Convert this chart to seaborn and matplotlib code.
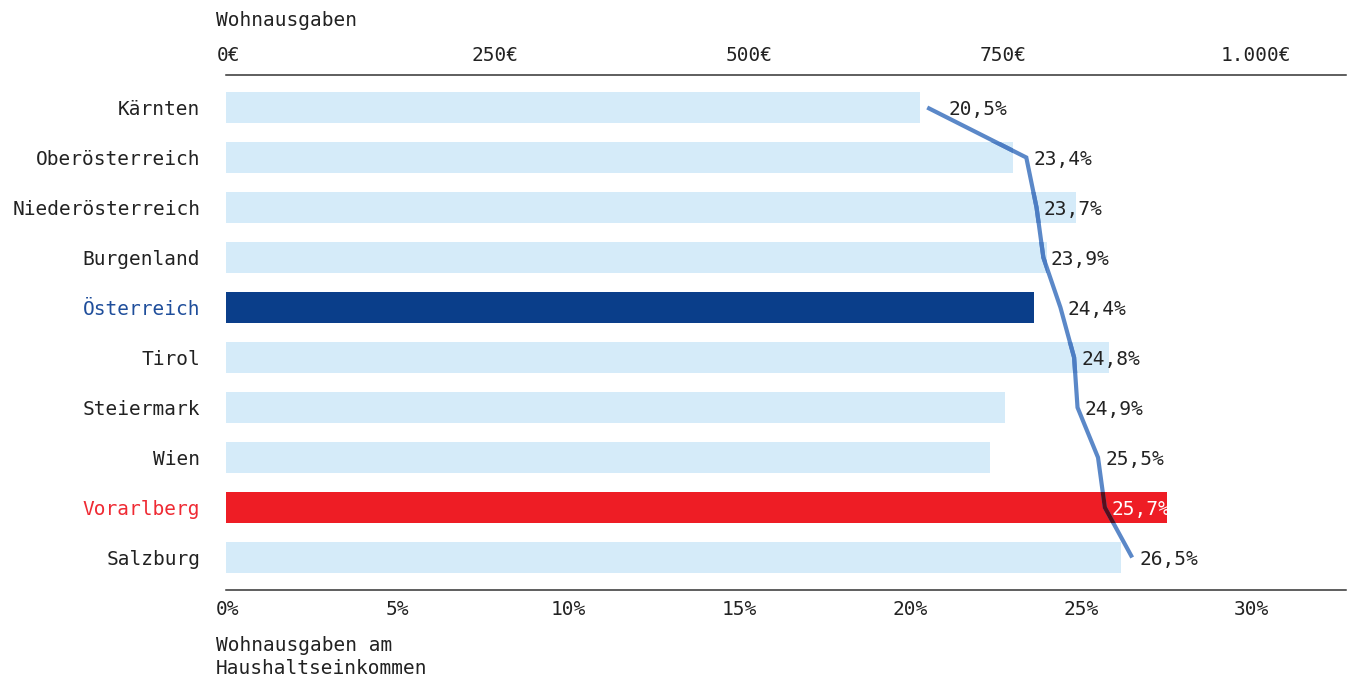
import numpy as np
import pandas as pd
import matplotlib
matplotlib.use("Agg")
import matplotlib.pyplot as plt
import matplotlib.transforms as mtransforms
from matplotlib.colors import to_rgb
import seaborn as sns

# --- data -------------------------------------------------------------
regions = ["Kärnten", "Oberösterreich", "Niederösterreich", "Burgenland",
           "Österreich", "Tirol", "Steiermark", "Wien", "Vorarlberg", "Salzburg"]
spend_eur = [683, 774, 836, 808, 795, 869, 766, 752, 926, 881]
share_pct = [20.5, 23.4, 23.7, 23.9, 24.4, 24.8, 24.9, 25.5, 25.7, 26.5]

eur_ticks = [0, 250, 500, 750, 1000]
eur_tick_labels = ["0€", "250€", "500€", "750€", "1.000€"]
pct_ticks = [0, 5, 10, 15, 20, 25, 30]
pct_tick_labels = ["0%", "5%", "10%", "15%", "20%", "25%", "30%"]

top_title = "Wohnausgaben"
bottom_title = "Wohnausgaben am\nHaushaltseinkommen"

# --- styling ----------------------------------------------------------
LIGHT = "#d5ebf9"
NAVY = "#0a3e8a"
RED = "#ee1d25"
LINE = "#5b88c8"
TEXT = "#222222"
bar_colors = {r: LIGHT for r in regions}
bar_colors["Österreich"] = NAVY
bar_colors["Vorarlberg"] = RED
label_colors = {"Österreich": "#1f4e9b", "Vorarlberg": "#ef2a33"}

sns.set_theme(style="white")
plt.rcParams["font.family"] = ["DejaVu Sans Mono"]
plt.rcParams["text.color"] = TEXT
FS = 14

df = pd.DataFrame({"region": regions, "eur": spend_eur, "pct": share_pct})

W, H = 1352, 679
fig = plt.figure(figsize=(W / 100, H / 100), dpi=100)
ax = fig.add_axes([226 / W, 1 - 590 / H, 1120 / W, 515 / H])
ax2 = ax.twiny()

# bars: monthly housing spend (top axis)
sns.barplot(data=df, x="eur", y="region", hue="region", palette=bar_colors,
            legend=False, width=0.62, saturation=1, linewidth=0, ax=ax)
ax.set_xlim(0, 1102)
ax.set_ylim(9.65, -0.65)
ax.set_xlabel("")
ax.set_ylabel("")

# line: share of household income (bottom axis)
ys = np.arange(len(regions))
line_kw = dict(lw=3.0, solid_joinstyle="miter", solid_capstyle="butt")
sns.lineplot(x=df["pct"], y=ys, sort=False, orient="y", color=LINE,
             ax=ax2, **line_kw)
# darken the line where it crosses a bar (multiply look)
base = np.array(to_rgb(LINE))
for patch in ax.patches:
    fc = np.array(patch.get_facecolor()[:3])
    seg, = ax2.plot(df["pct"], ys, color=tuple(base * fc), **line_kw)
    seg.set_clip_path(patch)
ax2.set_xlim(-0.03, 32.76)
ax2.set_ylim(9.65, -0.65)
ax2.set_xlabel("")
ax2.set_ylabel("")

# percentage labels next to the line
for i, (r, p) in enumerate(zip(regions, share_pct)):
    dx = 21 if i == 0 else 7
    ax2.annotate(f"{p:.1f}".replace(".", ",") + "%", xy=(p, i),
                 xytext=(dx, 0), textcoords="offset pixels",
                 ha="left", va="center_baseline", fontsize=FS,
                 color="white" if r == "Vorarlberg" else TEXT)

# axes layout
ax.xaxis.set_ticks_position("top")
ax.xaxis.set_label_position("top")
ax2.xaxis.set_ticks_position("bottom")
ax2.xaxis.set_label_position("bottom")

for s in ["left", "right", "bottom"]:
    ax.spines[s].set_visible(False)
for s in ["left", "right", "top"]:
    ax2.spines[s].set_visible(False)
ax.spines["top"].set_color("#333333")
ax.spines["top"].set_linewidth(1.1)
ax2.spines["bottom"].set_color("#333333")
ax2.spines["bottom"].set_linewidth(1.1)

ax.set_xticks(eur_ticks)
ax.set_xticklabels(eur_tick_labels)
ax2.set_xticks(pct_ticks)
ax2.set_xticklabels(pct_tick_labels)
ax.tick_params(axis="x", length=0, pad=7.5, labelsize=FS, labelcolor=TEXT)
ax2.tick_params(axis="x", length=0, pad=7, labelsize=FS, labelcolor=TEXT)
ax.tick_params(axis="y", length=0, pad=18.5, labelsize=FS, labelcolor=TEXT)
ax2.yaxis.set_visible(False)

for lbl in ax.get_yticklabels():
    lbl.set_color(label_colors.get(lbl.get_text(), TEXT))

# nudge the euro labels slightly right of their ticks
shifts = [2, 15, 15, 15, 14]
for lbl, dx in zip(ax.get_xticklabels(), shifts):
    lbl.set_transform(lbl.get_transform() +
                      mtransforms.ScaledTranslation(dx / 100, 0, fig.dpi_scale_trans))

fig.text(216 / W, 1 - 20 / H, top_title, ha="left", va="center", fontsize=FS, color=TEXT)
fig.text(216 / W, 1 - 636 / H, bottom_title, ha="left", va="top", fontsize=FS,
         color=TEXT, linespacing=1.25)

fig.savefig("out.png", dpi=100, facecolor="white")
